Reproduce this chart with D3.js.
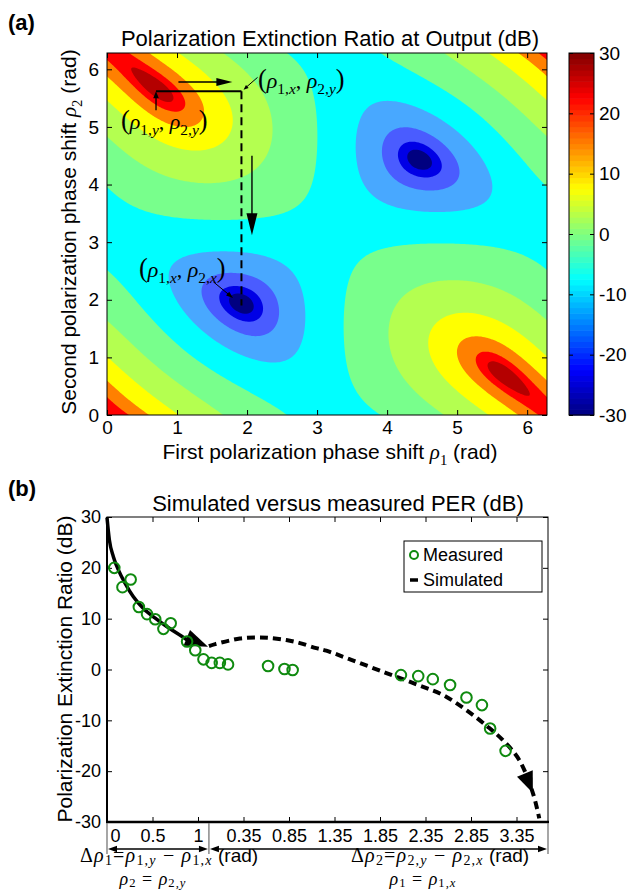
<!DOCTYPE html>
<html><head><meta charset="utf-8">
<script src="https://cdn.jsdelivr.net/npm/d3@7"></script>
<style>
body{margin:0;background:#fff;}
svg text{font-family:"Liberation Sans",Arial,Helvetica,sans-serif;fill:#000;white-space:pre;}
</style></head><body>
<svg id="fig" width="631" height="891"></svg>
<script>
// ---------- panel (a): PER map over the two phase shifts ----------
const TAU = 2 * Math.PI;
const rhoTicks = [0, 1, 2, 3, 4, 5, 6];
const perLevels = [-22.5, -17.5, -12.5, -7.5, -2.5, 2.5, 7.5, 12.5, 17.5, 22.5];
const bandColors = ["#000080", "#0000e6", "#4a5cff", "#48a8ff", "#00ffff", "#78ff8c",
                    "#b4ff50", "#ffff00", "#ff8000", "#ff0000", "#b40000"];
const colorbarTicks = [-30, -20, -10, 0, 10, 20, 30];

// Poincare-sphere model of the controller (two phase shifters with a fixed coupler between)
const inputS1 = 0.45;        // input state component along the first shifter axis
const couplerDeg = 116.4;    // coupler rotation on the sphere (deg)
const analyserS1 = 0.4364;   // analyser axis component along the second shifter axis
const rho1Zero = 0.05;       // residual phase of the first shifter (rad)
const rho2Zero = 0.04;       // residual phase of the second shifter (rad)

// operating points marked on the map: [rho1, rho2]
const ptY  = [0.70, 5.62];   // (rho1,y , rho2,y)
const ptXY = [1.92, 5.62];   // (rho1,x , rho2,y)
const ptX  = [1.92, 1.90];   // (rho1,x , rho2,x)

// ---------- panel (b): PER along the two tuning steps ----------
const perTicks = [-30, -20, -10, 0, 10, 20, 30];
const pathTicks = [0, 0.5, 1, 1.5, 2, 2.5, 3, 3.5, 4, 4.5];
const pathTickLabels = ["0", "0.5", "1", "0.35", "0.85", "1.35", "1.85", "2.35", "2.85", "3.35"];
const pathMax = 4.846;       // extent of the shared path axis
const step2Start = 1.12;     // where the second step (delta rho2 = 0) begins on that axis

// simulated PER, step 1 (delta rho1) and step 2 (delta rho2)
const simD1   = [0, 0.026, 0.07, 0.125, 0.198, 0.29, 0.40, 0.53, 0.66, 0.80, 0.93, 1.11];
const simPer1 = [29.9, 25.5, 22.2, 19.6, 17.0, 14.3, 12.0, 10.1, 8.4, 6.8, 5.5, 4.5];
const simD2   = [0, 0.07, 0.34, 0.52, 0.67, 0.85, 1.00, 1.18, 1.29, 1.55, 1.95, 2.30, 2.57, 2.83, 3.06, 3.23, 3.41, 3.56, 3.63];
const simPer2 = [4.6, 5.0, 6.1, 6.3, 6.2, 5.8, 5.2, 4.2, 3.7, 2.0, -0.7, -3.05, -5.0, -8.0, -11.2, -13.9, -17.8, -24.3, -29.3];

// measured PER
const measD1   = [0.08, 0.17, 0.26, 0.35, 0.44, 0.53, 0.62, 0.70, 0.88, 0.97, 1.06];
const measPer1 = [20.0, 16.2, 17.7, 12.3, 10.9, 9.9, 8.0, 9.1, 5.5, 3.8, 2.0];
const measD2   = [0.03, 0.12, 0.21, 0.65, 0.83, 0.92, 2.11, 2.30, 2.46, 2.65, 2.83, 3.00, 3.09, 3.26];
const measPer2 = [1.3, 1.3, 1.0, 0.7, 0.1, -0.1, -1.1, -1.3, -1.9, -3.05, -5.5, -7.0, -11.6, -16.0];

// ---------- helpers ----------
const svg = d3.select("#fig");
const SERIF = '"Liberation Serif","DejaVu Serif","Times New Roman",serif';

function perDb(r1, r2) {
  const d = couplerDeg * Math.PI / 180, k = inputS1, s = Math.sqrt(1 - k * k);
  const t = r1 - rho1Zero;
  const p1 = k * Math.cos(d) + s * Math.sin(d) * Math.cos(t);
  const p2 = k * Math.sin(d) - s * Math.cos(d) * Math.cos(t);
  const p3 = s * Math.sin(t);
  const a = r2 - rho2Zero, bt = Math.sqrt(1 - analyserS1 * analyserS1);
  let S = p1 * analyserS1 + bt * (p2 * Math.cos(a) - p3 * Math.sin(a));
  S = Math.max(-0.999999, Math.min(0.999999, S));
  return Math.max(-30, Math.min(30, 10 * Math.log10((1 + S) / (1 - S))));
}

// rich text: pieces of [kind, string, size]; kind "s" = sans, "m" = math (with _{..} subscripts)
function rich(text, pieces, size, subDrop = 0.28, spacing = 0) {
  let shift = 0;
  const put = (str, fam, fs, italic, target, math) => {
    const ts = text.append("tspan").text(str).attr("font-size", fs);
    if (fam) ts.attr("font-family", fam);
    if (italic) ts.attr("font-style", "italic");
    if (math && spacing) ts.attr("letter-spacing", spacing);
    if (target !== shift) { ts.attr("dy", target - shift); shift = target; }
  };
  pieces.forEach(([kind, src, sz]) => {
    const fsz = sz || size;
    if (kind === "s") { put(src, null, fsz, false, 0, false); return; }
    let i = 0;
    while (i < src.length) {
      if (src[i] === "_" && src[i + 1] === "{") {
        const end = src.indexOf("}", i);
        for (const ch of src.slice(i + 2, end))
          put(ch, SERIF, fsz * 0.7, /[a-zρ]/.test(ch), fsz * subDrop, true);
        i = end + 1;
      } else {
        const ch = src[i];
        const big = ch === "(" || ch === ")";
        put(ch, SERIF, big ? fsz * 1.2 : fsz, /[a-zA-Zρ]/.test(ch), 0, true);
        i++;
      }
    }
  });
  return text;
}

function arrowHead(g, tip, from, len, half) {
  const dx = tip[0] - from[0], dy = tip[1] - from[1], L = Math.hypot(dx, dy);
  const ux = dx / L, uy = dy / L;
  const bx = tip[0] - ux * len, by = tip[1] - uy * len;
  g.append("path")
    .attr("d", `M${tip[0]},${tip[1]}L${bx - uy * half},${by + ux * half}L${bx + uy * half},${by - ux * half}Z`)
    .attr("fill", "#000");
}

const minusFmt = d => d < 0 ? "-" + Math.abs(d) : String(d);

// ================= PANEL (a) =================
const xA = d3.scaleLinear([0, TAU], [107, 547]);
const yA = d3.scaleLinear([0, TAU], [415, 53]);

svg.append("text").attr("x", 8).attr("y", 30).attr("font-size", 22).attr("font-weight", "bold").text("(a)");
svg.append("text").attr("x", 330).attr("y", 46).attr("text-anchor", "middle").attr("font-size", 22)
  .text("Polarization Extinction Ratio at Output (dB)");

svg.append("clipPath").attr("id", "clipA").append("rect")
  .attr("x", 107).attr("y", 53).attr("width", 440).attr("height", 362);

const N = 241, h = TAU / (N - 1);
const grid = new Float64Array(N * N);
for (let j = 0; j < N; j++)
  for (let i = 0; i < N; i++) grid[j * N + i] = perDb(i * h, TAU - j * h);

const contours = d3.contours().size([N, N]).thresholds(perLevels)(grid);
const gridPath = d3.geoPath(d3.geoTransform({
  point(x, y) { this.stream.point(xA((x - 0.5) * h), yA(TAU - (y - 0.5) * h)); }
}));

const mapG = svg.append("g").attr("clip-path", "url(#clipA)");
mapG.append("rect").attr("x", 107).attr("y", 53).attr("width", 440).attr("height", 362).attr("fill", bandColors[0]);
mapG.selectAll("path.band").data(contours).join("path").attr("class", "band")
  .attr("d", gridPath).attr("fill", (d, i) => bandColors[i + 1]);

// frame and ticks
const axA = svg.append("g");
axA.append("g").attr("transform", "translate(0,415)")
  .call(d3.axisBottom(xA).tickValues(rhoTicks).tickSize(-5).tickPadding(6).tickFormat(d3.format("d")));
axA.append("g").attr("transform", "translate(0,53)")
  .call(d3.axisTop(xA).tickValues(rhoTicks).tickSize(-5).tickFormat(""));
axA.append("g").attr("transform", "translate(107,0)")
  .call(d3.axisLeft(yA).tickValues(rhoTicks).tickSize(-5).tickPadding(8).tickFormat(d3.format("d")));
axA.append("g").attr("transform", "translate(547,0)")
  .call(d3.axisRight(yA).tickValues(rhoTicks).tickSize(-5).tickFormat(""));
axA.selectAll(".domain").remove();
axA.selectAll("text").attr("font-size", 19).attr("font-family", null);
axA.selectAll("line").attr("stroke", "#000");
svg.append("rect").attr("x", 107).attr("y", 53).attr("width", 440).attr("height", 362)
  .attr("fill", "none").attr("stroke", "#000").attr("stroke-width", 1);

rich(svg.append("text").attr("x", 330).attr("y", 459).attr("text-anchor", "middle"),
  [["s", "First polarization phase shift "], ["m", "ρ_{1}"], ["s", " (rad)"]], 21);
rich(svg.append("text").attr("transform", "translate(76,232) rotate(-90)").attr("text-anchor", "middle"),
  [["s", "Second polarization phase shift "], ["m", "ρ_{2}"], ["s", " (rad)"]], 21);

// tuning path on the map
const ann = svg.append("g");
ann.append("line").attr("x1", xA(ptY[0])).attr("y1", yA(ptY[1])).attr("x2", xA(ptXY[0])).attr("y2", yA(ptXY[1]))
  .attr("stroke", "#000").attr("stroke-width", 2);
ann.append("line").attr("x1", xA(ptXY[0])).attr("y1", yA(ptXY[1])).attr("x2", xA(ptX[0])).attr("y2", yA(ptX[1]))
  .attr("stroke", "#000").attr("stroke-width", 2).attr("stroke-dasharray", "8,5");
// small marker arrow up to the starting point
ann.append("line").attr("x1", xA(ptY[0])).attr("y1", yA(5.29)).attr("x2", xA(ptY[0])).attr("y2", yA(ptY[1]) + 4)
  .attr("stroke", "#000").attr("stroke-width", 1.3);
arrowHead(ann, [xA(ptY[0]), yA(ptY[1])], [xA(ptY[0]), yA(5.29)], 7, 2.8);
// direction of the first step
ann.append("line").attr("x1", xA(1.02)).attr("y1", yA(5.78)).attr("x2", xA(1.60)).attr("y2", yA(5.78))
  .attr("stroke", "#000").attr("stroke-width", 1.4);
arrowHead(ann, [xA(1.79), yA(5.78)], [xA(1.02), yA(5.78)], 16, 4);
// direction of the second step
ann.append("line").attr("x1", xA(2.07)).attr("y1", yA(4.50)).attr("x2", xA(2.07)).attr("y2", yA(3.45))
  .attr("stroke", "#000").attr("stroke-width", 1.4);
arrowHead(ann, [xA(2.07), yA(3.12)], [xA(2.07), yA(4.50)], 22, 5.5);
// leader arrows for the labels
ann.append("line").attr("x1", xA(2.15)).attr("y1", yA(5.86)).attr("x2", xA(1.97)).attr("y2", yA(5.67))
  .attr("stroke", "#000").attr("stroke-width", 1);
arrowHead(ann, [xA(1.95), yA(5.645)], [xA(2.15), yA(5.86)], 5, 2);
ann.append("line").attr("x1", xA(1.52)).attr("y1", yA(2.31)).attr("x2", xA(1.76)).attr("y2", yA(2.07))
  .attr("stroke", "#000").attr("stroke-width", 1);
arrowHead(ann, [xA(1.80), yA(2.03)], [xA(1.52), yA(2.31)], 7, 2.5);

rich(ann.append("text").attr("x", 258).attr("y", 88), [["m", "(ρ_{1,x}, ρ_{2,y})"]], 22, 0.25);
rich(ann.append("text").attr("x", 121).attr("y", 129), [["m", "(ρ_{1,y}, ρ_{2,y})"]], 22, 0.25);
rich(ann.append("text").attr("x", 139).attr("y", 277), [["m", "(ρ_{1,x}, ρ_{2,x})"]], 22, 0.25);

// colorbar (jet, 64 steps)
const cbY = d3.scaleLinear([-30, 30], [415, 53]);
const jet = x => {
  const c = v => Math.max(0, Math.min(1, v));
  return d3.rgb(255 * c(1.5 - Math.abs(4 * x - 3)), 255 * c(1.5 - Math.abs(4 * x - 2)), 255 * c(1.5 - Math.abs(4 * x - 1)));
};
const cbSteps = d3.range(64);
svg.append("g").selectAll("rect").data(cbSteps).join("rect")
  .attr("x", 569).attr("width", 25)
  .attr("y", k => cbY(-30 + (k + 1) * 60 / 64)).attr("height", k => cbY(-30 + k * 60 / 64) - cbY(-30 + (k + 1) * 60 / 64) + 0.6)
  .attr("fill", k => jet((k + 0.5) / 64));
const cbAx = svg.append("g");
cbAx.append("g").attr("transform", "translate(594,0)")
  .call(d3.axisRight(cbY).tickValues(colorbarTicks).tickSize(-4).tickPadding(5).tickFormat(minusFmt));
cbAx.append("g").attr("transform", "translate(569,0)")
  .call(d3.axisLeft(cbY).tickValues(colorbarTicks).tickSize(-4).tickFormat(""));
cbAx.selectAll(".domain").remove();
cbAx.selectAll("text").attr("font-size", 19).attr("font-family", null);
cbAx.selectAll("line").attr("stroke", "#000");
svg.append("rect").attr("x", 569).attr("y", 53).attr("width", 25).attr("height", 362)
  .attr("fill", "none").attr("stroke", "#000");

// ================= PANEL (b) =================
const xB = d3.scaleLinear([0, pathMax], [107, 548]);
const yB = d3.scaleLinear([-30, 30], [822, 517]);

svg.append("text").attr("x", 8).attr("y", 496).attr("font-size", 22).attr("font-weight", "bold").text("(b)");
svg.append("text").attr("x", 338).attr("y", 511).attr("text-anchor", "middle").attr("font-size", 22)
  .text("Simulated versus measured PER (dB)");

const axB = svg.append("g");
axB.append("g").attr("transform", "translate(0,822)")
  .call(d3.axisBottom(xB).tickValues(pathTicks).tickSize(-5).tickPadding(7).tickFormat((d, i) => pathTickLabels[i]));
axB.append("g").attr("transform", "translate(0,517)")
  .call(d3.axisTop(xB).tickValues(pathTicks).tickSize(-5).tickFormat(""));
axB.append("g").attr("transform", "translate(107,0)")
  .call(d3.axisLeft(yB).tickValues(perTicks).tickSize(-5).tickPadding(6).tickFormat(minusFmt));
axB.append("g").attr("transform", "translate(548,0)")
  .call(d3.axisRight(yB).tickValues(perTicks).tickSize(-5).tickFormat(""));
axB.selectAll(".domain").remove();
axB.selectAll("text").attr("font-size", 18).attr("font-family", null);
axB.selectAll("line").attr("stroke", "#000");
axB.select("g").selectAll(".tick text").filter((d, i) => i === 0).attr("dx", 8);
svg.append("rect").attr("x", 107).attr("y", 517).attr("width", 441).attr("height", 305)
  .attr("fill", "none").attr("stroke", "#000").attr("stroke-width", 1);
svg.append("line").attr("x1", 106).attr("x2", 549).attr("y1", 822).attr("y2", 822).attr("stroke", "#000").attr("stroke-width", 2.5);
svg.append("line").attr("x1", 107).attr("x2", 107).attr("y1", 517).attr("y2", 822).attr("stroke", "#000").attr("stroke-width", 2);

rich(svg.append("text").attr("transform", "translate(72,669) rotate(-90)").attr("text-anchor", "middle"),
  [["s", "Polarization Extinction Ratio (dB)"]], 21);

// simulated curves
const sim1 = simD1.map((d, i) => [xB(d), yB(simPer1[i])]);
const sim2 = simD2.map((d, i) => [xB(step2Start + d), yB(simPer2[i])]);
const lineGen = d3.line().curve(d3.curveMonotoneX);
svg.append("path").attr("d", lineGen(sim1.slice(0, -1).concat([[sim1[sim1.length - 1][0] - 9, sim1[sim1.length - 1][1] - 5]])))
  .attr("fill", "none").attr("stroke", "#000").attr("stroke-width", 3.5);
arrowHead(svg, sim1[sim1.length - 1], sim1[sim1.length - 3], 23, 8.5);
svg.append("path").attr("d", d3.line().curve(d3.curveCatmullRom)(sim2))
  .attr("fill", "none").attr("stroke", "#000").attr("stroke-width", 4).attr("stroke-dasharray", "8,5");
arrowHead(svg, sim2[sim2.length - 2], sim2[sim2.length - 3], 21, 8.5);

// measured points
const meas = measD1.map((d, i) => [xB(d), yB(measPer1[i])])
  .concat(measD2.map((d, i) => [xB(step2Start + d), yB(measPer2[i])]));
svg.append("g").selectAll("circle").data(meas).join("circle")
  .attr("cx", d => d[0]).attr("cy", d => d[1]).attr("r", 5.3)
  .attr("fill", "none").attr("stroke", "#0f8a0f").attr("stroke-width", 2);

// legend
const lg = svg.append("g");
lg.append("rect").attr("x", 404).attr("y", 541).attr("width", 138).attr("height", 51)
  .attr("fill", "#fff").attr("stroke", "#000").attr("stroke-width", 1);
lg.append("circle").attr("cx", 414).attr("cy", 555).attr("r", 4).attr("fill", "none")
  .attr("stroke", "#0f8a0f").attr("stroke-width", 2);
lg.append("text").attr("x", 423).attr("y", 561).attr("font-size", 18).text("Measured");
lg.append("line").attr("x1", 410).attr("x2", 418).attr("y1", 580).attr("y2", 580).attr("stroke", "#000").attr("stroke-width", 3.5);
lg.append("text").attr("x", 423).attr("y", 586).attr("font-size", 18).text("Simulated");

// step ranges under the axis
const rg = svg.append("g");
[0, step2Start, pathMax].forEach(u => {
  rg.append("line").attr("x1", xB(u)).attr("x2", xB(u)).attr("y1", 823).attr("y2", 854)
    .attr("stroke", "#777").attr("stroke-width", 1.3);
});
[[0, step2Start], [step2Start, pathMax]].forEach(([a, b]) => {
  const x1 = xB(a) + 1, x2 = xB(b) - 1;
  rg.append("line").attr("x1", x1 + 6).attr("x2", x2 - 6).attr("y1", 849).attr("y2", 849).attr("stroke", "#000").attr("stroke-width", 1.3);
  arrowHead(rg, [x1, 849], [x2, 849], 9, 3.2);
  arrowHead(rg, [x2, 849], [x1, 849], 9, 3.2);
});
rich(rg.append("text").attr("x", 80).attr("y", 862),
  [["m", "Δρ_{1}=ρ_{1,y} − ρ_{1,x}", 20], ["s", " (rad)", 19]], 20, 0.16, 1.2);
rich(rg.append("text").attr("x", 153).attr("y", 885).attr("text-anchor", "middle"),
  [["m", "ρ_{2} = ρ_{2,y}"]], 18, 0.12, 1);
rich(rg.append("text").attr("x", 351).attr("y", 862),
  [["m", "Δρ_{2}=ρ_{2,y} − ρ_{2,x}", 20], ["s", " (rad)", 19]], 20, 0.16, 1.2);
rich(rg.append("text").attr("x", 423).attr("y", 885).attr("text-anchor", "middle"),
  [["m", "ρ_{1} = ρ_{1,x}"]], 18, 0.12, 1);
</script>
</body></html>
